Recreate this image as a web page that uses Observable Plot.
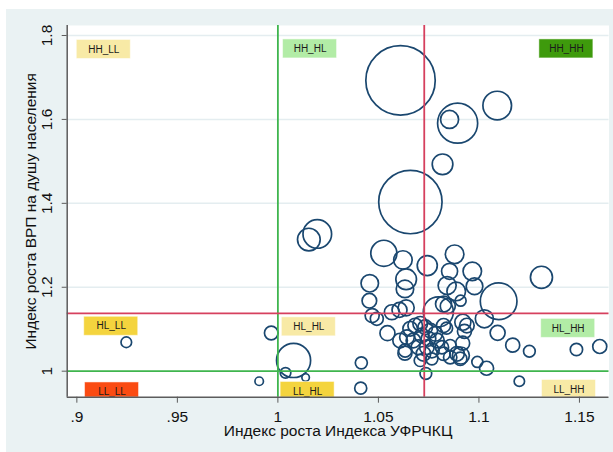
<!DOCTYPE html>
<html>
<head>
<meta charset="utf-8">
<script src="https://cdn.jsdelivr.net/npm/d3@7"></script>
<script src="https://cdn.jsdelivr.net/npm/@observablehq/plot@0.6"></script>
<style>
  body { margin: 0; background: #ffffff; }
  #chart { position: absolute; left: 6px; top: 9px; width: 607px; height: 443px; background: #eaf2f3; }
</style>
</head>
<body>
<div id="chart"></div>
<script>
// ---- Data ----
const growthIndexUF = [1.061,1.0659,1.0894,1.0854,1.1091,1.0819,1.0196,1.0154,0.9246,0.9967,1.0078,1.0038,1.0138,0.9907,1.0412,1.0415,1.1201,1.0736,1.1038,1.0992,1.1251,1.1168,1.1485,1.1601,1.1093,1.1027,1.1098,1.1311,1.0879,1.0967,1.0978,1.0854,1.0743,1.0622,1.0527,1.0457,1.0455,1.0638,1.0632,1.0842,1.0887,1.0909,1.0824,1.0798,1.0469,1.0492,1.0567,1.0638,1.0545,1.0632,1.0919,1.092,1.091,1.0839,1.0845,1.0605,1.0658,1.0683,1.0708,1.0733,1.0758,1.0783,1.0642,1.0674,1.0716,1.0749,1.0791,1.0699,1.0741,1.0766,1.0724,1.0633,1.0816,1.0857,1.0824,1.0857,1.0891,1.0907,1.0766,1.0708,1.0608,1.094,1.0928,1.0824];
const growthGRP = [1.693,1.403,1.591,1.600,1.633,1.493,1.327,1.3136,1.069,1.091,1.0255,0.996,0.985,0.976,0.9595,1.020,0.976,0.9945,1.007,1.022,1.0476,1.062,1.0517,1.0588,1.0914,1.1248,1.1667,1.2238,1.2786,1.238,1.2024,1.238,1.2517,1.265,1.281,1.2095,1.168,1.219,1.196,1.204,1.19,1.168,1.160,1.1413,1.1326,1.1248,1.1405,1.151,1.0905,1.043,1.0667,1.1167,1.0374,1.1024,1.155,1.146,1.101,1.1088,1.1129,1.1048,1.0969,1.089,1.081,1.0731,1.085,1.0771,1.0731,1.0571,1.0571,1.0493,1.0414,1.0493,1.0571,1.0612,1.0414,1.0333,1.0414,1.0295,1.0295,1.0255,1.073,1.1088,1.095,1.1088];
const weight = [12.0,10.0,4.0,0.81,2.04,1.06,2.04,1.28,0.28,0.46,2.89,0.28,0.14,0.18,0.36,0.36,0.27,0.34,0.49,0.30,0.34,0.49,0.38,0.49,0.56,0.81,3.35,1.21,0.86,0.85,0.69,0.64,1.0,0.85,1.69,0.76,0.53,1.06,0.76,0.81,0.86,0.30,0.64,2.25,0.49,0.42,0.56,0.64,0.56,0.49,0.49,0.64,0.72,0.36,0.56,0.56,0.53,0.53,0.53,0.53,0.53,0.53,0.53,0.53,0.53,0.53,0.53,0.53,0.53,0.53,0.53,0.44,0.44,0.36,0.44,0.44,0.53,0.44,0.36,0.36,0.53,0.53,0.49,0.49];

const xTicks = [0.9, 0.95, 1, 1.05, 1.1, 1.15];
const xTickLabels = [".9", ".95", "1", "1.05", "1.1", "1.15"];
const yTicks = [1, 1.2, 1.4, 1.6, 1.8];
const yTickLabels = ["1", "1.2", "1.4", "1.6", "1.8"];
const yGrid = [1.2, 1.4, 1.6, 1.8];

const xThresholds = [1.0, 1.0728];
const yThresholds = [1.0, 1.138];

const quadNames = ["HH_LL","HH_HL","HH_HH","HL_LL","HL_HL","HL_HH","LL_LL","LL_HL","LL_HH"];
const quadX = [0.9134, 1.016, 1.1435, 0.9171, 1.0154, 1.1444, 0.9175, 1.0148, 1.1448];
const quadY = [1.7667, 1.768, 1.768, 1.107, 1.1057, 1.102, 0.9505, 0.9517, 0.9564];

const xTitle = "Индекс роста Индекса УФРЧКЦ";
const yTitle = "Индекс роста ВРП на душу населения";

// ---- Styles ----
const quadColor = {
  HH_LL: "#f8eaa6", HH_HL: "#b2eca6", HH_HH: "#3e9a0c",
  HL_LL: "#f4d43e", HL_HL: "#f8eaa6", HL_HH: "#b2eca6",
  LL_LL: "#fa4b12", LL_HL: "#f4d43e", LL_HH: "#f8eaa6"
};
const thresholdColors = ["#3fb54e", "#d6405e"];

const points = growthIndexUF.map((x, i) => ({x, y: growthGRP[i], w: weight[i]}));
const quads = quadNames.map((n, i) => ({name: n, x: quadX[i], y: quadY[i]}));

const xDomain = [0.8952, 1.1647];
const yDomain = [0.938, 1.8238];

const chart = Plot.plot({
  width: 607,
  height: 443,
  marginLeft: 60.7,
  marginTop: 16,
  marginRight: 4.5,
  marginBottom: 55.3,
  style: { background: "transparent", fontFamily: "'Liberation Sans', Arial, sans-serif", color: "#111" },
  x: { domain: xDomain, axis: null },
  y: { domain: yDomain, axis: null },
  r: { type: "sqrt", domain: [0, 12.0], range: [0, 34.7] },
  marks: [
    Plot.frame({ fill: "white", stroke: "none" }),
    Plot.gridY(yGrid, { stroke: "#e4edf0", strokeOpacity: 1, strokeWidth: 1.5 }),
    Plot.dot(points, { x: "x", y: "y", r: "w", stroke: "#1a476f", strokeWidth: 1.7, fill: "none" }),
    Plot.ruleX(xThresholds, { stroke: (d, i) => thresholdColors[i], strokeWidth: 1.8 }),
    Plot.ruleY(yThresholds, { stroke: (d, i) => thresholdColors[i], strokeWidth: 1.8 }),
    Plot.rect(quads, { x1: "x", x2: "x", y1: "y", y2: "y", insetLeft: -27, insetRight: -27, insetTop: -9.5, insetBottom: -9.5, fill: d => quadColor[d.name], stroke: "#ffffff", strokeOpacity: 0.5, clip: true }),
    Plot.text(quads, { x: "x", y: "y", text: "name", fontSize: 10, fill: "#1b1b1b", clip: true }),
    Plot.ruleX([xDomain[0]], { stroke: "#5c5c5c", strokeWidth: 1.5 }),
    Plot.ruleY([yDomain[0]], { stroke: "#5c5c5c", strokeWidth: 1.5 }),
    Plot.axisX(xTicks, { anchor: "bottom", tickSize: 6, tickPadding: 8, fontSize: 15.5, stroke: "#5c5c5c", fill: "#111", tickFormat: d => xTickLabels[xTicks.indexOf(d)], label: null }),
    Plot.axisY(yTicks, { anchor: "left", tickSize: 5, tickFormat: () => "", stroke: "#5c5c5c", label: null }),
    Plot.text(yTicks, { y: d => d, frameAnchor: "left", text: d => yTickLabels[yTicks.indexOf(d)], rotate: -90, dx: -20.5, textAnchor: "middle", lineAnchor: "middle", fontSize: 15.5, fill: "#111" }),
    Plot.text([xTitle], { frameAnchor: "bottom", dy: 34.3, textAnchor: "middle", lineAnchor: "middle", fontSize: 15.5, fill: "#111" }),
    Plot.text([yTitle], { frameAnchor: "left", rotate: -90, dx: -35.7, textAnchor: "middle", lineAnchor: "middle", fontSize: 15.5, fill: "#111" })
  ]
});
document.getElementById("chart").appendChild(chart);
</script>
</body>
</html>
